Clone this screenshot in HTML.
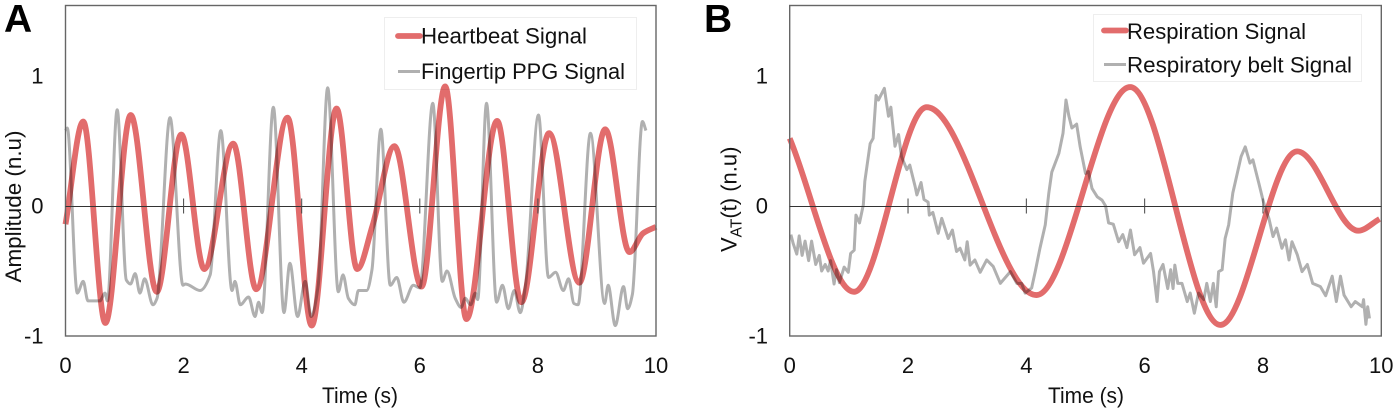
<!DOCTYPE html>
<html lang="en">
<head>
<meta charset="utf-8">
<title>Heartbeat and respiration signals</title>
<style>
html,body{margin:0;padding:0;background:#fff;width:1397px;height:411px;overflow:hidden}
svg{display:block}
text{font-family:"Liberation Sans",sans-serif;fill:#111}
.sig-red{fill:none;stroke:#e26c6c;stroke-width:5.8;stroke-linejoin:round;stroke-linecap:butt;mix-blend-mode:multiply}
.sig-gray{fill:none;stroke:#b0b0b0;stroke-width:3;stroke-linejoin:round;mix-blend-mode:multiply}
</style>
</head>
<body>
<svg id="figure" width="1397" height="411" viewBox="0 0 1397 411" xmlns="http://www.w3.org/2000/svg">
  <text x="4" y="32" font-size="39" font-weight="700" style="fill:#000">A</text>
  <text x="704" y="32" font-size="39" font-weight="700" style="fill:#000">B</text>

  <g id="panel-a">
    <rect x="384.5" y="17.5" width="252" height="72" fill="#fff" stroke="#eeeeee" stroke-width="1"/>
    <line x1="398" y1="36" x2="420" y2="36" stroke="#e26c6c" stroke-width="5.8" stroke-linecap="round"/>
    <text x="421" y="43.5" font-size="22.5" textLength="166" lengthAdjust="spacingAndGlyphs">Heartbeat Signal</text>
    <line x1="398" y1="71.5" x2="420" y2="71.5" stroke="#b0b0b0" stroke-width="3"/>
    <text x="421" y="79" font-size="22.5" textLength="204" lengthAdjust="spacingAndGlyphs">Fingertip PPG Signal</text>
    <text x="360" y="403" font-size="22" text-anchor="middle" textLength="76" lengthAdjust="spacingAndGlyphs">Time (s)</text>
    <text transform="translate(21,206.5) rotate(-90)" font-size="22" text-anchor="middle" textLength="152" lengthAdjust="spacingAndGlyphs">Amplitude (n.u)</text>
  </g>

  <g id="panel-b">
    <rect x="1093.5" y="14.5" width="268" height="67" fill="#fff" stroke="#eeeeee" stroke-width="1"/>
    <line x1="1104" y1="30.5" x2="1126" y2="30.5" stroke="#e26c6c" stroke-width="5.8" stroke-linecap="round"/>
    <text x="1127" y="39" font-size="22.5" textLength="179" lengthAdjust="spacingAndGlyphs">Respiration Signal</text>
    <line x1="1104" y1="64.5" x2="1126" y2="64.5" stroke="#b0b0b0" stroke-width="3"/>
    <text x="1127" y="72.5" font-size="22.5" textLength="225" lengthAdjust="spacingAndGlyphs">Respiratory belt Signal</text>
    <text x="1086" y="403" font-size="22" text-anchor="middle" textLength="76" lengthAdjust="spacingAndGlyphs">Time (s)</text>
    <text transform="translate(736.5,252) rotate(-90)" font-size="22">V<tspan font-size="15.5" dy="5">AT</tspan><tspan dy="-5">(t) (n.u)</tspan></text>
  </g>
</svg>

<script>
const xTickLabels = [0, 2, 4, 6, 8, 10];
const yTickLabels = [-1, 0, 1];
const xDomain = [0, 10];
const yDomain = [-1, 1];

const heartbeatTimes = [0,.3,.675,1.105,1.545,1.96,2.35,2.84,3.23,3.76,
  4.17,4.59,4.94,5.2,5.57,6.03,6.43,6.79,7.31,7.72,
  8.19,8.7,9.14,9.55,9.78,10];
const heartbeatValues = [-.14,.65,-.9,.7,-.66,.55,-.485,.48,-.64,.68,
  -.92,.75,-.485,-.15,.46,-.62,.92,-.87,.655,-.74,
  .56,-.59,.59,-.355,-.21,-.16];

const ppgTimes = [0,.03,.2,.3,.38,.58,.67,.71,.875,1.03,
  1.1,1.18,1.26,1.34,1.48,1.55,1.77,1.99,2.03,2.28,
  2.45,2.63,2.82,2.87,2.96,3.1,3.21,3.27,3.33,3.52,
  3.7,3.8,3.93,4.06,4.16,4.28,4.44,4.62,4.7,4.79,
  4.9,4.96,5.1,5.19,5.34,5.5,5.61,5.73,5.89,6.0,
  6.22,6.38,6.46,6.6,6.7,6.77,6.86,6.94,6.98,7.13,
  7.3,7.4,7.5,7.6,7.7,7.79,8.01,8.18,8.3,8.43,
  8.52,8.61,8.68,8.89,9.13,9.19,9.31,9.45,9.52,9.6,
  9.77,9.83];
const ppgValues = [.58,.6,-.67,-.58,-.73,-.73,-.67,-.73,.74,-.57,
  -.6,-.52,-.67,-.56,-.76,-.71,.68,-.61,-.6,-.65,
  -.53,.58,-.65,-.58,-.76,-.7,-.85,-.74,-.82,.76,
  -.82,-.44,-.85,-.58,-.85,-.61,.91,-.66,-.53,-.71,
  -.76,-.65,-.65,-.49,.59,-.61,-.55,-.74,-.61,-.63,
  .79,-.58,-.5,-.71,-.78,-.71,-.76,-.67,-.72,.79,
  -.74,-.61,-.79,-.65,-.82,-.61,.7,-.55,-.51,-.65,
  -.56,-.75,-.76,.56,-.75,-.61,-.92,-.62,-.79,-.68,
  .65,.58];

const respirationTimes = [0,1.087,2.315,4.17,5.755,7.28,8.58,9.61,9.97];
const respirationValues = [.52,-.66,.76,-.685,.915,-.915,.42,-.19,-.1];

const beltTimes = [.02,.06,.12,.16,.21,.26,.32,.37,.44,.5,
  .54,.6,.65,.69,.75,.79,.84,.92,.99,1.03,
  1.09,1.12,1.18,1.245,1.27,1.36,1.41,1.46,1.5,1.6,
  1.67,1.71,1.78,1.84,1.89,1.98,2.03,2.12,2.15,2.22,
  2.27,2.34,2.36,2.42,2.51,2.57,2.68,2.75,2.82,2.88,
  2.96,3,3.05,3.13,3.22,3.33,3.44,3.56,3.73,3.84,
  3.92,3.98,4.09,4.15,4.23,4.32,4.38,4.43,4.55,4.62,
  4.67,4.72,4.77,4.85,4.91,5,5.05,5.11,5.2,5.28,
  5.34,5.39,5.47,5.56,5.63,5.7,5.76,5.83,5.92,5.98,
  6.1,6.15,6.21,6.25,6.31,6.39,6.44,6.48,6.51,6.56,
  6.63,6.72,6.77,6.84,6.91,7,7.05,7.11,7.16,7.21,
  7.25,7.31,7.36,7.42,7.49,7.57,7.63,7.7,7.78,7.83,
  7.93,8,8.04,8.1,8.17,8.23,8.32,8.38,8.44,8.49,
  8.58,8.66,8.75,8.84,8.97,9.06,9.17,9.24,9.31,9.37,
  9.49,9.56,9.68,9.7,9.74,9.77,9.8];
const beltValues = [-.22,-.29,-.37,-.23,-.38,-.27,-.42,-.27,-.45,-.38,
  -.5,-.45,-.5,-.42,-.6,-.49,-.59,-.47,-.51,-.365,
  -.34,-.07,-.13,.01,.19,.48,.52,.85,.815,.905,
  .69,.76,.46,.55,.38,.28,.315,.15,.085,.18,
  .05,.03,-.07,-.05,-.21,-.095,-.25,-.185,-.35,-.325,
  -.415,-.275,-.455,-.415,-.51,-.415,-.465,-.595,-.505,-.595,
  -.595,-.67,-.63,-.505,-.325,-.145,.1,.26,.405,.56,
  .815,.69,.6,.63,.455,.25,.265,.135,.07,.045,
  0,-.13,-.14,-.275,-.22,-.32,-.185,-.375,-.32,-.44,
  -.365,-.505,-.735,-.505,-.45,-.635,-.49,-.635,-.455,-.595,
  -.595,-.735,-.67,-.825,-.67,-.72,-.595,-.735,-.595,-.775,
  -.505,-.49,-.25,-.145,.1,.26,.38,.455,.33,.355,
  .175,.045,-.02,-.095,-.235,-.17,-.325,-.26,-.415,-.275,
  -.375,-.505,-.45,-.595,-.62,-.69,-.54,-.735,-.54,-.685,
  -.775,-.735,-.775,-.72,-.91,-.775,-.865];

const SVG_NS = 'http://www.w3.org/2000/svg';

function linearScale(domain, range) {
  return function (v) {
    return range[0] + (v - domain[0]) * (range[1] - range[0]) / (domain[1] - domain[0]);
  };
}

/* Monotone cubic path (same idea as d3 curveMonotoneX) */
function smoothPath(xs, ys) {
  const n = xs.length;
  const slopes = [];
  const secants = [];
  for (let i = 0; i < n - 1; i++) {
    secants.push((ys[i + 1] - ys[i]) / (xs[i + 1] - xs[i]));
  }
  for (let i = 0; i < n; i++) {
    if (i === 0) { slopes.push(secants[0]); continue; }
    if (i === n - 1) { slopes.push(secants[n - 2]); continue; }
    const a = secants[i - 1];
    const b = secants[i];
    if (a * b <= 0) { slopes.push(0); continue; }
    const h0 = xs[i] - xs[i - 1];
    const h1 = xs[i + 1] - xs[i];
    const w1 = 2 * h1 + h0;
    const w2 = h1 + 2 * h0;
    slopes.push((w1 + w2) / (w1 / a + w2 / b));
  }
  let d = 'M' + xs[0].toFixed(2) + ',' + ys[0].toFixed(2);
  for (let i = 0; i < n - 1; i++) {
    const h = (xs[i + 1] - xs[i]) / 3;
    d += 'C' + (xs[i] + h).toFixed(2) + ',' + (ys[i] + slopes[i] * h).toFixed(2) + ' ' +
      (xs[i + 1] - h).toFixed(2) + ',' + (ys[i + 1] - slopes[i + 1] * h).toFixed(2) + ' ' +
      xs[i + 1].toFixed(2) + ',' + ys[i + 1].toFixed(2);
  }
  return d;
}

function straightPath(xs, ys) {
  return xs.map(function (x, i) {
    return (i ? 'L' : 'M') + x.toFixed(2) + ',' + ys[i].toFixed(2);
  }).join('');
}

function drawPanel(group, left, right, labelRight, times, values, refTimes, refValues, refSmooth) {
  const top = 5.5;
  const bottom = 336;
  const sx = linearScale(xDomain, [left, right]);
  const sy = linearScale(yDomain, [bottom, 76]);

  const refPath = document.createElementNS(SVG_NS, 'path');
  
  
  refPath.setAttribute('class', 'sig-gray');
  const rx = refTimes.map(sx);
  const ry = refValues.map(sy);
  refPath.setAttribute('d', refSmooth ? smoothPath(rx, ry) : straightPath(rx, ry));
  group.appendChild(refPath);

  const mainPath = document.createElementNS(SVG_NS, 'path');
  
  
  mainPath.setAttribute('class', 'sig-red');
  mainPath.setAttribute('d', smoothPath(times.map(sx), values.map(sy)));
  group.appendChild(mainPath);

  const frame = document.createElementNS(SVG_NS, 'rect');
  
  
  frame.setAttribute('x', left);
  frame.setAttribute('y', top);
  frame.setAttribute('width', right - left);
  frame.setAttribute('height', bottom - top);
  frame.setAttribute('fill', 'none');
  frame.setAttribute('stroke', '#666');
  frame.setAttribute('stroke-width', '1.4');
  group.appendChild(frame);

  const zeroLine = document.createElementNS(SVG_NS, 'line');
  
  
  zeroLine.setAttribute('x1', left);
  zeroLine.setAttribute('x2', right);
  zeroLine.setAttribute('y1', sy(0) + 0.5);
  zeroLine.setAttribute('y2', sy(0) + 0.5);
  zeroLine.setAttribute('stroke', '#333');
  zeroLine.setAttribute('stroke-width', '1');
  group.appendChild(zeroLine);

  xTickLabels.forEach(function (t) {
    if (t !== xDomain[0] && t !== xDomain[1]) {
      const tick = document.createElementNS(SVG_NS, 'line');
      
      
      tick.setAttribute('x1', sx(t));
      tick.setAttribute('x2', sx(t));
      tick.setAttribute('y1', sy(0) - 7.5);
      tick.setAttribute('y2', sy(0) + 7.5);
      tick.setAttribute('stroke', '#444');
      tick.setAttribute('stroke-width', '1');
      group.appendChild(tick);
    }
    const label = document.createElementNS(SVG_NS, 'text');
    
    
    label.setAttribute('x', sx(t));
    label.setAttribute('y', 373);
    label.setAttribute('font-size', '22');
    label.setAttribute('text-anchor', 'middle');
    label.textContent = t;
    group.appendChild(label);
  });

  yTickLabels.forEach(function (v) {
    const label = document.createElementNS(SVG_NS, 'text');
    
    
    label.setAttribute('x', labelRight);
    label.setAttribute('y', sy(v) + 7.5);
    label.setAttribute('font-size', '22');
    label.setAttribute('text-anchor', 'end');
    label.textContent = v;
    group.appendChild(label);
  });
}

drawPanel(document.getElementById('panel-a'), 65.5, 656, 43.5,
  heartbeatTimes, heartbeatValues, ppgTimes, ppgValues, true);
drawPanel(document.getElementById('panel-b'), 789.7, 1381.3, 768,
  respirationTimes, respirationValues, beltTimes, beltValues, false);
</script>
</body>
</html>
